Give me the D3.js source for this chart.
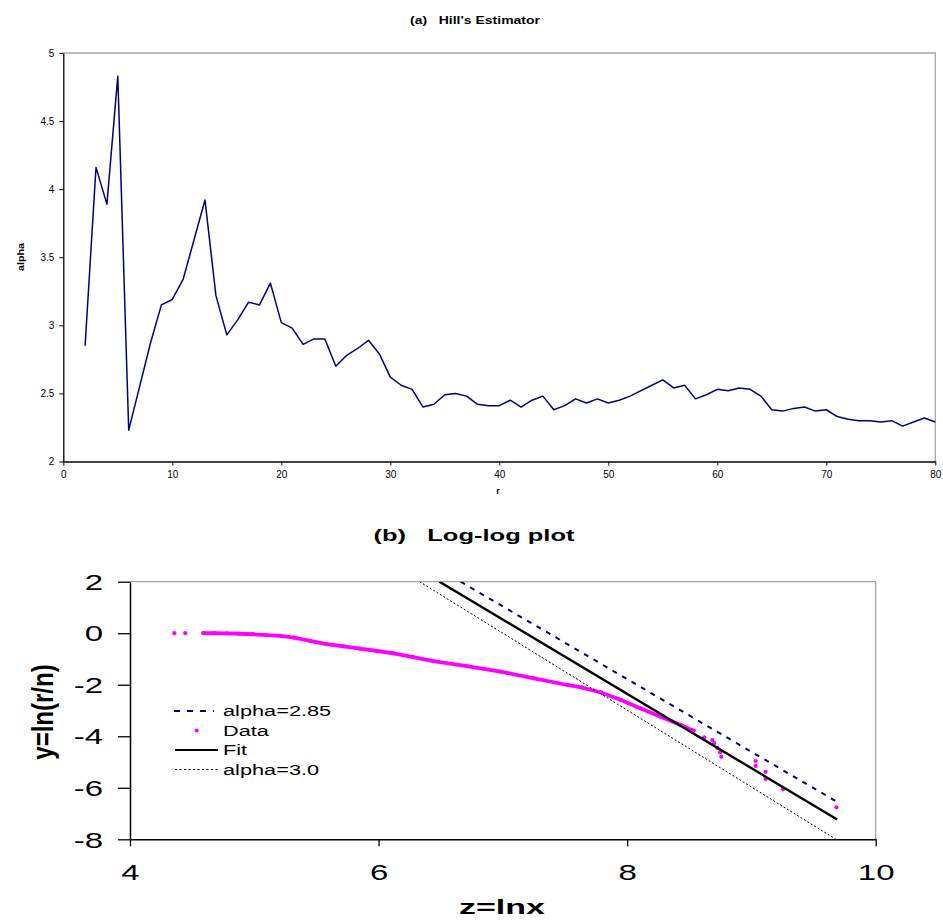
<!DOCTYPE html>
<html>
<head>
<meta charset="utf-8">
<script src="https://cdn.jsdelivr.net/npm/d3@7"></script>
<style>
  body { margin: 0; background: #fff; }
  svg text { font-family: "Liberation Sans", Arial, sans-serif; fill: #000; }
</style>
</head>
<body>
<svg id="chart" width="943" height="920"></svg>
<script>
// ---- (a) Hill's estimator ----
const hillR = d3.range(2, 81);
const hillAlpha = [2.85, 4.16, 3.89, 4.83, 2.23, 2.55, 2.87, 3.15, 3.19, 3.34,
  3.63, 3.92, 3.22, 2.93, 3.04, 3.17, 3.15, 3.31, 3.02, 2.98,
  2.86, 2.90, 2.90, 2.70, 2.78, 2.83, 2.89, 2.79, 2.62, 2.56,
  2.53, 2.40, 2.42, 2.49, 2.50, 2.48, 2.42, 2.41, 2.41, 2.45,
  2.40, 2.45, 2.48, 2.38, 2.41, 2.46, 2.43, 2.46, 2.43, 2.45,
  2.48, 2.52, 2.56, 2.60, 2.54, 2.56, 2.46, 2.49, 2.53, 2.52,
  2.54, 2.53, 2.48, 2.38, 2.37, 2.39, 2.40, 2.37, 2.38, 2.33,
  2.31, 2.30, 2.30, 2.29, 2.30, 2.26, 2.29, 2.32, 2.29];
const hillXTicks = [0, 10, 20, 30, 40, 50, 60, 70, 80];
const hillYTicks = [2, 2.5, 3, 3.5, 4, 4.5, 5];

// ---- (b) log-log plot: z = ln x, y = ln(r/n) ----
const dataHead = [[4.357, 0], [4.445, 0]];
const dataBand = [[4.59, 0.0], [4.68, -0.002], [4.78, -0.005], [4.88, -0.02], [4.99, -0.04],
  [5.10, -0.07], [5.21, -0.10], [5.32, -0.17], [5.45, -0.30], [5.58, -0.42],
  [5.72, -0.51], [5.85, -0.60], [5.99, -0.69], [6.12, -0.78], [6.28, -0.93],
  [6.44, -1.08], [6.71, -1.28], [6.98, -1.49], [7.25, -1.75], [7.52, -2.01],
  [7.63, -2.10], [7.79, -2.30], [7.95, -2.59], [8.11, -2.92], [8.27, -3.24],
  [8.43, -3.56], [8.52, -3.76]];
const dataTail = [[8.537, -3.78], [8.62, -4.04], [8.685, -4.15], [8.70, -4.27], [8.725, -4.45],
  [8.747, -4.62], [8.758, -4.80], [9.034, -4.96], [9.034, -5.15], [9.114, -5.38],
  [9.114, -5.66], [9.254, -6.06], [9.684, -6.76]];
const alpha285Line = [[6.66, 2.0], [9.69, -6.55]];
const fitLine = [[6.49, 2.0], [9.69, -7.23]];
const alpha30Line = [[6.33, 2.0], [9.68, -8.0]];
const logXTicks = [4, 6, 8, 10];
const logYTicks = [2, 0, -2, -4, -6, -8];
const legendLabels = ["alpha=2.85", "Data", "Fit", "alpha=3.0"];

const svg = d3.select('#chart');
const frameGray = '#a6a6a6';
const navy = '#000080';
const magenta = '#ff00ff';
const plainNum = d => String(d);   // "5", "4.5", "-8" (ascii hyphen)

// ================= chart (a) =================
const xA = d3.scaleLinear().domain([0, 80]).range([63.3, 935.3]);
const yA = d3.scaleLinear().domain([2, 5]).range([461.5, 53]);
const gA = svg.append('g');

gA.append('path')
  .attr('d', `M${xA(0)},${yA(5)}H${xA(80)}V${yA(2)}`)
  .attr('fill', 'none').attr('stroke', frameGray).attr('stroke-width', 1.3);

gA.append('g').attr('transform', `translate(0,${yA(2)})`)
  .call(d3.axisBottom(xA).tickValues(hillXTicks).tickSize(4).tickSizeOuter(0).tickPadding(5).tickFormat(plainNum))
  .call(g => g.select('.domain').attr('stroke-width', 1.3))
  .call(g => g.selectAll('text').attr('font-size', 10).attr('font-family', null));

gA.append('g').attr('transform', `translate(${xA(0)},0)`)
  .call(d3.axisLeft(yA).tickValues(hillYTicks).tickSize(4).tickSizeOuter(0).tickPadding(5).tickFormat(plainNum))
  .call(g => g.select('.domain').attr('stroke-width', 1.3))
  .call(g => g.selectAll('text').attr('font-size', 10).attr('font-family', null));

gA.append('path')
  .datum(hillR.map((r, i) => [r, hillAlpha[i]]))
  .attr('fill', 'none').attr('stroke', navy).attr('stroke-width', 1.5)
  .attr('stroke-linejoin', 'round')
  .attr('d', d3.line().x(d => xA(d[0])).y(d => yA(d[1])));

gA.append('text').attr('transform', 'translate(475,24) scale(1.4,1)')
  .attr('text-anchor', 'middle').attr('font-size', 10).attr('font-weight', 'bold')
  .attr('xml:space', 'preserve').text("(a)   Hill's Estimator");
gA.append('text').attr('transform', 'translate(21,257) rotate(-90) scale(1.2,1)')
  .attr('text-anchor', 'middle').attr('dy', '0.35em').attr('font-size', 9).attr('font-weight', 'bold')
  .text('alpha');
gA.append('text').attr('x', 498).attr('y', 494)
  .attr('text-anchor', 'middle').attr('font-size', 9).attr('font-weight', 'bold').text('r');

// ================= chart (b) =================
const xB = d3.scaleLinear().domain([4, 10]).range([130, 875.7]);
const yB = d3.scaleLinear().domain([-8, 2]).range([839.3, 581.7]);
const gB = svg.append('g');

svg.append('defs').append('clipPath').attr('id', 'clipB')
  .append('rect').attr('x', xB(4)).attr('y', yB(2))
  .attr('width', xB(10) - xB(4)).attr('height', yB(-8) - yB(2));

gB.append('path')
  .attr('d', `M${xB(4)},${yB(2)}H${xB(10)}V${yB(-8)}`)
  .attr('fill', 'none').attr('stroke', frameGray).attr('stroke-width', 1.3);

gB.append('g').attr('transform', `translate(0,${yB(-8)})`)
  .call(d3.axisBottom(xB).tickValues(logXTicks).tickSize(7).tickSizeOuter(0).tickFormat(plainNum))
  .call(g => g.select('.domain').attr('stroke-width', 1.5))
  .call(g => g.selectAll('line').attr('stroke-width', 1.3))
  .call(g => g.selectAll('text').attr('font-size', 22).attr('font-family', null)
    .attr('y', 41).attr('dy', 0).attr('transform', 'scale(1.5,1)'));

gB.append('g').attr('transform', `translate(${xB(4)},0)`)
  .call(d3.axisLeft(yB).tickValues(logYTicks).tickSize(12).tickSizeOuter(0).tickFormat(plainNum))
  .call(g => g.select('.domain').attr('stroke-width', 1.5))
  .call(g => g.selectAll('line').attr('stroke-width', 1.3))
  .call(g => g.selectAll('text').attr('font-size', 22).attr('font-family', null)
    .attr('x', -18).attr('dy', '0.35em').attr('transform', 'scale(1.5,1)'));

const lineB = d3.line().x(d => xB(d[0])).y(d => yB(d[1]));
const plotB = gB.append('g').attr('clip-path', 'url(#clipB)');

// data (dense part drawn as a band of overlapping markers)
plotB.append('path').datum(dataBand)
  .attr('fill', 'none').attr('stroke', magenta).attr('stroke-width', 3.8)
  .attr('stroke-linecap', 'round').attr('stroke-linejoin', 'round').attr('d', lineB);
plotB.selectAll('circle.pt').data(dataHead.concat(dataBand, dataTail)).join('circle')
  .attr('class', 'pt').attr('cx', d => xB(d[0])).attr('cy', d => yB(d[1]))
  .attr('r', 2.1).attr('fill', magenta);

plotB.append('path').datum(alpha30Line)
  .attr('fill', 'none').attr('stroke', '#000').attr('stroke-width', 1)
  .attr('stroke-dasharray', '2,2').attr('d', lineB);
plotB.append('path').datum(fitLine)
  .attr('fill', 'none').attr('stroke', '#000').attr('stroke-width', 2.4).attr('d', lineB);
plotB.append('path').datum(alpha285Line)
  .attr('fill', 'none').attr('stroke', navy).attr('stroke-width', 2)
  .attr('stroke-dasharray', '5,6').attr('d', lineB);

// legend
const leg = gB.append('g').attr('transform', 'translate(174,711)');
const rowH = 19.5;
leg.append('line').attr('x1', 0).attr('x2', 40).attr('y1', 0).attr('y2', 0)
  .attr('stroke', navy).attr('stroke-width', 2).attr('stroke-dasharray', '6,7');
leg.append('circle').attr('cx', 22.7).attr('cy', rowH).attr('r', 2.1).attr('fill', magenta);
leg.append('line').attr('x1', 1).attr('x2', 44).attr('y1', rowH * 2).attr('y2', rowH * 2)
  .attr('stroke', '#000').attr('stroke-width', 2);
leg.append('line').attr('x1', 1).attr('x2', 44).attr('y1', rowH * 3).attr('y2', rowH * 3)
  .attr('stroke', '#000').attr('stroke-width', 1).attr('stroke-dasharray', '2,2.5');
leg.selectAll('text').data(legendLabels).join('text')
  .attr('transform', (d, i) => `translate(49,${i * rowH}) scale(1.45,1)`)
  .attr('dy', '0.35em').attr('font-size', 15).text(d => d);

gB.append('text').attr('transform', 'translate(474,541) scale(1.5,1)')
  .attr('text-anchor', 'middle').attr('font-size', 17).attr('font-weight', 'bold')
  .attr('xml:space', 'preserve').text('(b)   Log-log plot');
gB.append('text').attr('transform', 'translate(43,712) rotate(-90) scale(1,1.2)')
  .attr('text-anchor', 'middle').attr('dy', '0.35em').attr('font-size', 24).attr('font-weight', 'bold')
  .text('y=ln(r/n)');
gB.append('text').attr('transform', 'translate(502,914) scale(1.7,1)')
  .attr('text-anchor', 'middle').attr('font-size', 20).attr('font-weight', 'bold')
  .text('z=lnx');
</script>
</body>
</html>
